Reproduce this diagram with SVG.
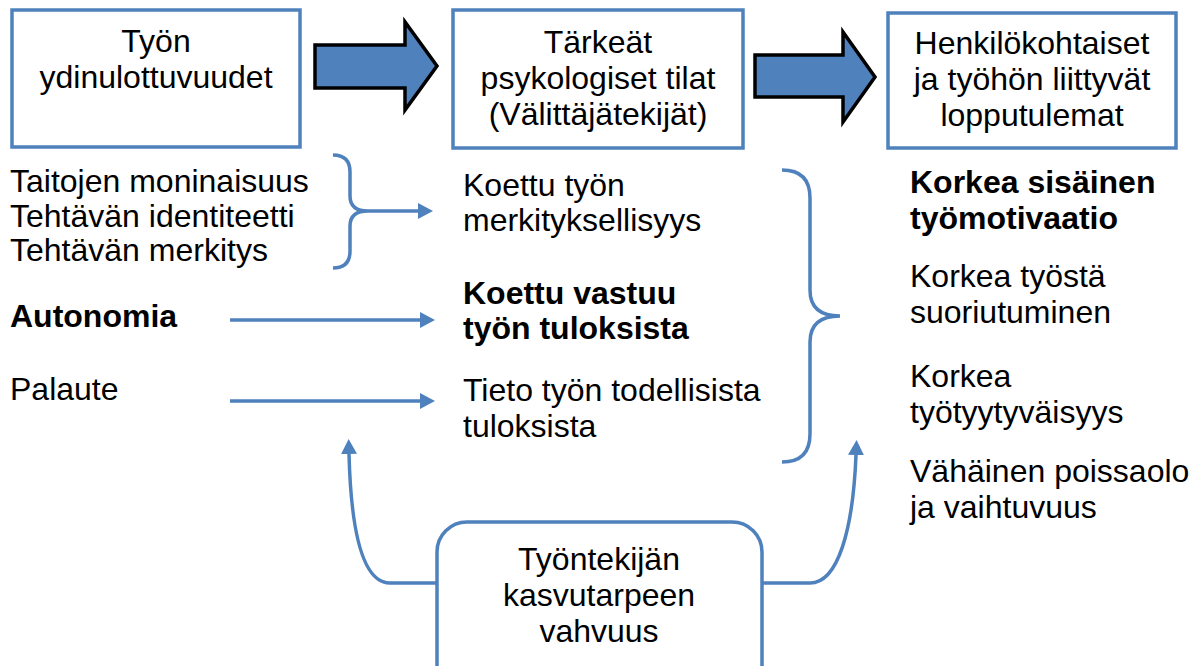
<svg xmlns="http://www.w3.org/2000/svg" width="1199" height="666" viewBox="0 0 1199 666">
<style>
text{font-family:"Liberation Sans",Arial,sans-serif;font-size:32px;fill:#000}
.c{text-anchor:middle}
.b{font-weight:bold}
.box{fill:#fff;stroke:#4F81BD;stroke-width:3.5}
.con{fill:none;stroke:#4F81BD;stroke-width:3.5}
.blk{fill:#4F81BD;stroke:#000;stroke-width:3.5;stroke-linejoin:miter}
</style>
<defs>
<marker id="ah" viewBox="0 0 15 16" refX="0" refY="8" markerWidth="15" markerHeight="16" markerUnits="userSpaceOnUse" orient="auto">
<path d="M0,0 L15,8 L0,16 z" fill="#4F81BD"/>
</marker>
</defs>
<rect width="1199" height="666" fill="#fff"/>
<g id="connectors">
<polygon class="blk" points="315,45 405,45 405,22 437,66 405,110 405,88 315,88"/>
<polygon class="blk" points="755,55 843,55 843,32 875,77 843,122 843,97 755,97"/>
<path class="con" d="M333,155 Q350,155 350,172 L350,196 Q350,211 368,211 Q350,211 350,226 L350,251 Q350,268 333,268"/>
<path class="con" d="M368,211 L418,211" marker-end="url(#ah)"/>
<path class="con" d="M230,320 L420,320" marker-end="url(#ah)"/>
<path class="con" d="M230,401 L420,401" marker-end="url(#ah)"/>
<path class="con" d="M782,170 Q810,170 810,198 L810,290 Q810,316 840,316 Q810,316 810,342 L810,434 Q810,462 782,462"/>
<path class="con" d="M437,583 L390,583 C362,583 351,530 349,454" marker-end="url(#ah)"/>
<path class="con" d="M762,583 L810,583 C838,583 853,530 856,455" marker-end="url(#ah)"/>
</g>
<g id="node-core">
<rect class="box" x="12" y="10" width="288" height="137"/>
<text class="c" x="156" y="52">Työn</text>
<text class="c" x="156" y="88">ydinulottuvuudet</text>
</g>
<g id="node-states">
<rect class="box" x="453" y="10" width="290" height="138"/>
<text class="c" x="598" y="53">Tärkeät</text>
<text class="c" x="598" y="89">psykologiset tilat</text>
<text class="c" x="598" y="125">(Välittäjätekijät)</text>
</g>
<g id="node-outcomes">
<rect class="box" x="888" y="13" width="288" height="135"/>
<text class="c" x="1032" y="54">Henkilökohtaiset</text>
<text class="c" x="1032" y="90">ja työhön liittyvät</text>
<text class="c" x="1032" y="126">lopputulemat</text>
</g>
<g id="node-dimensions">
<text x="10" y="192">Taitojen moninaisuus</text>
<text x="10" y="227">Tehtävän identiteetti</text>
<text x="10" y="261">Tehtävän merkitys</text>
</g>
<g id="node-autonomia"><text class="b" x="10" y="327">Autonomia</text></g>
<g id="node-palaute"><text x="10" y="400">Palaute</text></g>
<g id="node-meaning">
<text x="463" y="196">Koettu työn</text>
<text x="463" y="231">merkityksellisyys</text>
</g>
<g id="node-responsibility">
<text class="b" x="463" y="304">Koettu vastuu</text>
<text class="b" x="463" y="339">työn tuloksista</text>
</g>
<g id="node-knowledge">
<text x="463" y="401">Tieto työn todellisista</text>
<text x="463" y="437">tuloksista</text>
</g>
<g id="node-results">
<text class="b" x="910" y="193">Korkea sisäinen</text>
<text class="b" x="910" y="229">työmotivaatio</text>
<text x="910" y="287">Korkea työstä</text>
<text x="910" y="323">suoriutuminen</text>
<text x="910" y="387">Korkea</text>
<text x="910" y="423">työtyytyväisyys</text>
<text x="910" y="482">Vähäinen poissaolo</text>
<text x="910" y="518">ja vaihtuvuus</text>
</g>
<g id="node-growth">
<rect class="box" x="437" y="522" width="325" height="175" rx="30"/>
<text class="c" x="599" y="570">Työntekijän</text>
<text class="c" x="599" y="606">kasvutarpeen</text>
<text class="c" x="599" y="642">vahvuus</text>
</g>
</svg>
